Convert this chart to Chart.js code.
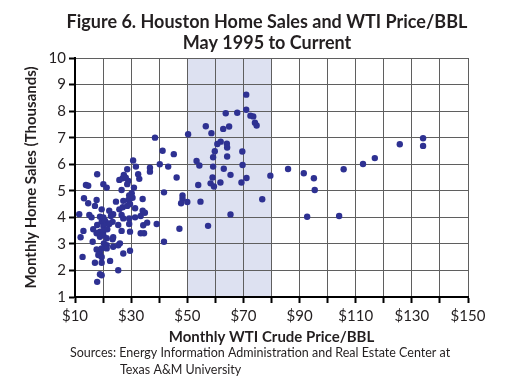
<!DOCTYPE html>
<html>
<head>
<meta charset="utf-8">
<script src="https://cdn.jsdelivr.net/npm/chart.js@4"></script>
<style>
  body { margin: 0; background: #fff; }
  canvas { display: block; }
</style>
</head>
<body>
<canvas id="salesChart" width="508" height="390"></canvas>
<script>
// Monthly WTI price ($/BBL) and Houston home sales (thousands), one pair per month
const oilPrice = [
    17.9, 38.5, 41.2, 45.2, 30.7, 31.7, 36.7, 36.7, 40.2, 43.2,
    28.6, 27.4, 27.0, 25.8, 28.1, 29.0, 28.6, 32.5, 32.9, 13.9,
    14.7, 20.1, 21.3, 31.0, 26.6, 30.2, 29.3, 29.0, 30.5, 34.1,
    24.6, 27.2, 13.2, 17.7, 14.7, 17.1, 29.6, 19.5, 22.2, 25.8,
    27.0, 28.6, 31.4, 34.1, 11.5, 15.1, 15.9, 18.9, 20.1, 23.6,
    22.8, 26.6, 27.2, 29.3, 31.4, 33.4, 34.9, 19.5, 20.7, 21.9,
    23.4, 17.9, 20.1, 22.2, 25.4, 29.3, 34.3, 35.7, 39.1, 13.0,
    16.5, 18.9, 20.1, 21.5, 26.6, 29.6, 33.4, 34.6, 12.0, 17.7,
    18.9, 20.1, 21.3, 23.6, 16.3, 20.3, 23.4, 21.3, 26.0, 17.7,
    19.5, 18.9, 21.3, 23.6, 25.4, 27.2, 29.6, 12.7, 18.3, 19.5,
    22.5, 17.1, 19.5, 25.4, 18.9, 19.5, 17.9, 41.7, 41.7, 46.2,
    50.3, 56.6, 58.6, 62.8, 64.9, 63.7, 67.8, 71.0, 71.0, 72.5,
    73.5, 74.1, 74.7, 61.9, 60.7, 64.1, 64.2, 59.8, 59.2, 64.2,
    69.6, 53.3, 54.3, 59.2, 69.7, 63.0, 65.4, 59.0, 71.1, 53.9,
    58.3, 59.5, 61.8, 69.3, 48.3, 48.3, 47.8, 50.0, 54.7, 65.4,
    47.2, 57.4, 76.7, 79.6, 85.9, 91.5, 95.1, 95.4, 92.7, 104.1,
    105.7, 112.6, 116.8, 125.7, 134.0, 134.0
];
const homeSales = [
    5.62, 7.00, 6.51, 6.38, 6.14, 5.91, 5.87, 5.72, 6.00, 5.91,
    5.81, 5.60, 5.47, 5.41, 5.49, 5.37, 5.25, 5.62, 5.45, 5.22,
    5.19, 5.25, 5.12, 5.12, 5.03, 4.91, 4.82, 4.65, 4.74, 4.69,
    4.59, 4.62, 4.72, 4.65, 4.53, 4.43, 4.50, 4.30, 4.25, 4.30,
    4.38, 4.43, 4.34, 4.25, 4.12, 4.09, 4.00, 4.02, 4.00, 4.12,
    4.05, 4.09, 3.96, 3.96, 4.00, 4.05, 4.17, 3.83, 3.87, 3.77,
    3.83, 3.71, 3.67, 3.75, 3.71, 3.75, 3.70, 3.80, 3.75, 3.49,
    3.55, 3.46, 3.49, 3.55, 3.49, 3.46, 3.40, 3.40, 3.25, 3.40,
    3.27, 3.33, 3.21, 3.25, 3.08, 3.02, 3.17, 2.95, 3.02, 2.79,
    2.83, 2.66, 2.83, 2.89, 2.95, 2.64, 2.74, 2.51, 2.58, 2.51,
    2.36, 2.29, 2.29, 2.01, 1.86, 1.82, 1.57, 3.08, 4.94, 5.50,
    7.13, 7.43, 7.17, 7.33, 7.42, 7.92, 7.94, 8.62, 8.05, 7.83,
    7.80, 7.56, 7.46, 6.85, 6.76, 6.77, 6.63, 6.49, 6.26, 6.29,
    6.48, 6.12, 5.95, 5.91, 5.97, 5.83, 5.60, 5.50, 5.48, 5.22,
    5.28, 5.16, 5.31, 5.31, 4.82, 4.70, 4.53, 4.58, 4.59, 4.11,
    3.57, 3.68, 4.68, 5.57, 5.82, 5.66, 5.47, 5.03, 4.02, 4.05,
    5.81, 6.01, 6.23, 6.75, 6.98, 6.69
];
const xLabels = ['$10', '$30', '$50', '$70', '$90', '$110', '$130', '$150'];
const yLabels = ['1', '2', '3', '4', '5', '6', '7', '8', '9', '10'];
// shaded price band
const bandFrom = 50;
const bandTo = 80;

const titleLines = ['Figure 6. Houston Home Sales and WTI Price/BBL', 'May 1995 to Current'];
const sourceLines = ['Sources: Energy Information Administration and Real Estate Center at', 'Texas A&M University'];

const FONT = 'Lato, "Open Sans", sans-serif';
const TEXT = '#231f20';

const points = oilPrice.map((p, i) => ({ x: p, y: homeSales[i] }));

// light band behind the grid
const bandPlugin = {
    id: 'band',
    beforeDraw(chart) {
        const { ctx, chartArea, scales } = chart;
        const x1 = scales.x.getPixelForValue(bandFrom);
        const x2 = scales.x.getPixelForValue(bandTo);
        ctx.save();
        ctx.fillStyle = '#dde1f1';
        ctx.fillRect(x1, chartArea.top, x2 - x1, chartArea.bottom - chartArea.top);
        ctx.restore();
    }
};

// title on top and sources note below
const textPlugin = {
    id: 'texts',
    afterDraw(chart) {
        const ctx = chart.ctx;
        ctx.save();
        ctx.fillStyle = TEXT;
        ctx.textBaseline = 'middle';
        ctx.textAlign = 'center';
        ctx.font = 'bold 18px ' + FONT;
        ctx.fillText(titleLines[0], 267, 22);
        ctx.fillText(titleLines[1], 267, 43);
        ctx.textAlign = 'left';
        ctx.font = '12.5px ' + FONT;
        ctx.fillText(sourceLines[0], 70, 353);
        ctx.fillText(sourceLines[1], 120, 370);
        ctx.restore();
    }
};

new Chart(document.getElementById('salesChart'), {
    type: 'scatter',
    data: {
        datasets: [{
            data: points,
            backgroundColor: '#2e3192',
            borderColor: '#2e3192',
            borderWidth: 0,
            pointRadius: 3.2
        }]
    },
    options: {
        responsive: false,
        animation: false,
        layout: { padding: { top: 58, right: 40, bottom: 43, left: 0 } },
        plugins: {
            legend: { display: false },
            tooltip: { enabled: false }
        },
        scales: {
            x: {
                type: 'linear',
                min: 10,
                max: 150,
                afterFit(scale) { scale.height = 50; },
                ticks: {
                    stepSize: 10,
                    padding: 4,
                    color: TEXT,
                    font: { family: FONT, size: 15 },
                    maxRotation: 0,
                    autoSkip: false,
                    callback(value) {
                        const i = (value - 10) / 20;
                        return Number.isInteger(i) ? xLabels[i] : '';
                    }
                },
                grid: {
                    color: '#5f5f5f',
                    lineWidth: 1,
                    tickColor: '#000',
                    tickLength: 6,
                    tickWidth: 2
                },
                border: { color: '#000', width: 2 },
                title: {
                    display: true,
                    text: 'Monthly WTI Crude Price/BBL',
                    color: TEXT,
                    font: { family: FONT, size: 15, weight: 'bold' },
                    padding: { top: 0, bottom: 1 }
                }
            },
            y: {
                type: 'linear',
                min: 1,
                max: 10,
                afterFit(scale) { scale.width = 75; },
                ticks: {
                    stepSize: 1,
                    padding: 3,
                    color: TEXT,
                    font: { family: FONT, size: 15 },
                    callback(value) { return yLabels[value - 1]; }
                },
                grid: {
                    color: '#5f5f5f',
                    lineWidth: 1,
                    tickColor: '#000',
                    tickLength: 6,
                    tickWidth: 2
                },
                border: { color: '#000', width: 2 },
                title: {
                    display: true,
                    text: 'Monthly Home Sales (Thousands)',
                    color: TEXT,
                    font: { family: FONT, size: 15, weight: 'bold' },
                    padding: { top: 22, bottom: 0 }
                }
            }
        }
    },
    plugins: [bandPlugin, textPlugin]
});
</script>
</body>
</html>
